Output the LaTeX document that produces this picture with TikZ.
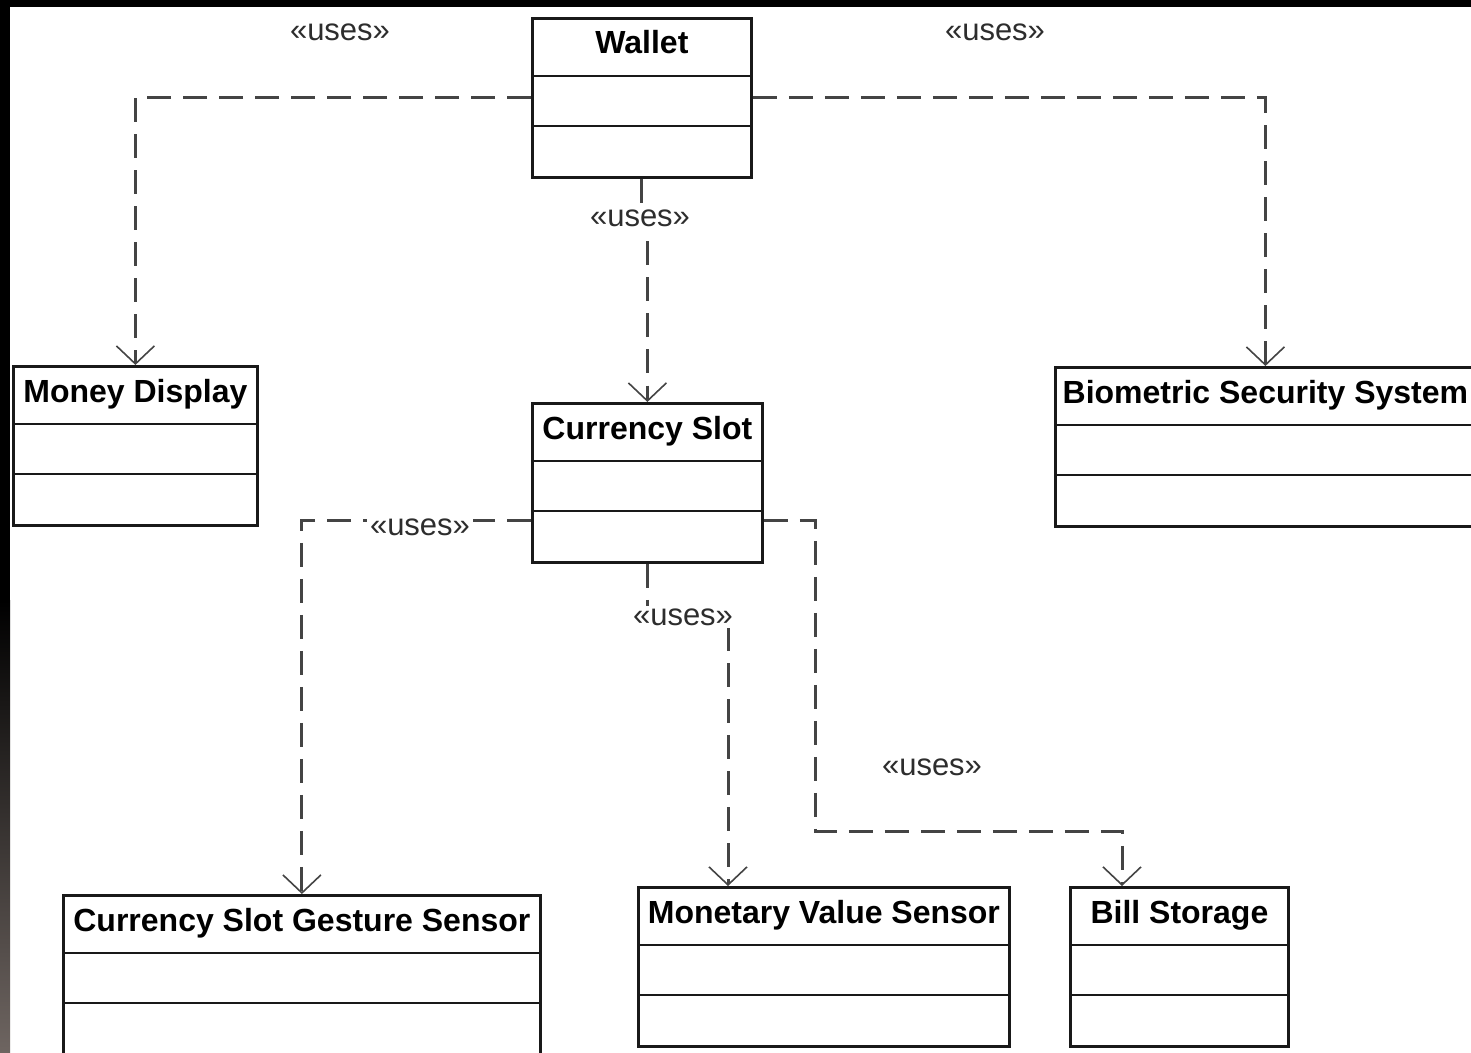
\documentclass[tikz,border=0pt]{standalone}
\usepackage{fontspec}
\setmainfont{Liberation Sans}
\usetikzlibrary{arrows.meta,calc}
\definecolor{depgray}{RGB}{68,68,68}
\definecolor{lblgray}{RGB}{45,45,45}
\definecolor{edgegray}{RGB}{110,101,97}
\tikzset{
  clsbox/.style={draw=black!90, line width=1.4pt, fill=white, inner sep=0pt, rectangle},
  clsline/.style={draw=black!90, line width=1.4pt},
  clstitle/.style={anchor=base, inner sep=0pt, font=\bfseries\fontsize{16pt}{18pt}\selectfont},
  deparrow/.style={draw=depgray, line width=1.5pt, dash pattern=on 12pt off 6pt,
    -{Straight Barb[length=9pt,width=19pt,line width=0.8pt]}},
  uses/.style={font=\fontsize{15.5pt}{18pt}\selectfont, text=lblgray, inner sep=1.5pt},
  usesbg/.style={uses, fill=white},
}
\newcommand\umlcls[5]{%
  \node[clsbox, anchor=north west, minimum width=#4*0.5pt, minimum height=79.5pt] (#1) at (#2,#3) {};
  \draw[clsline] ($(#1.north west)+(0,59)$) -- ($(#1.north east)+(0,59)$);
  \draw[clsline] ($(#1.north west)+(0,109)$) -- ($(#1.north east)+(0,109)$);
  \node[clstitle] (#1-title) at ($(#1.north)+(0,37)$) {#5};
}
\begin{document}
\begin{tikzpicture}[x=0.5pt, y=-0.5pt]
  \useasboundingbox (0,0) rectangle (1471,1053);
  \clip (0,0) rectangle (1471,1053);
  \fill[white] (0,0) rectangle (1471,1053);
  \fill[black] (0,0) rectangle (1471,7);
  \fill[black] (0,0) rectangle (10,600);
  \shade[top color=black, bottom color=edgegray] (0,600) rectangle (10,1053);

  \umlcls{wallet}{531}{17}{219}{Wallet}
  \umlcls{md}{12}{365}{244}{Money Display}
  \umlcls{cs}{531}{402}{230}{Currency Slot}
  \umlcls{bio}{1054}{366}{420}{Biometric Security System}
  \umlcls{gs}{62}{894}{477}{Currency Slot Gesture Sensor}
  \umlcls{mv}{637}{886}{371}{Monetary Value Sensor}
  \umlcls{bs}{1069}{886}{218}{Bill Storage}

  \coordinate (c3) at (640,218);
  \coordinate (c5) at (683,617);
  \coordinate (k6) at (815,831);

  \draw[deparrow] (wallet.west) -| (md.north);
  \draw[deparrow] (wallet.east) -| (bio.north);
  \draw[deparrow] (wallet.south) |- (c3) -| (cs.north);
  \draw[deparrow] ($(cs.north west)+(0,118)$) -| (gs.north);
  \draw[deparrow] (cs.south) |- (c5) -| ($(mv.north west)+(91,0)$);
  \draw[deparrow] ($(cs.north east)+(0,118)$) -| (k6) -| ($(bs.north west)+(53,0)$);

  \node[uses] (u1) at (340,32) {«uses»};
  \node[uses] (u2) at (995,32) {«uses»};
  \node[usesbg] (u3) at (c3) {«uses»};
  \node[usesbg] (u4) at (420,527) {«uses»};
  \node[usesbg] (u5) at (c5) {«uses»};
  \node[uses] (u6) at (932,767) {«uses»};
\end{tikzpicture}
\end{document}
